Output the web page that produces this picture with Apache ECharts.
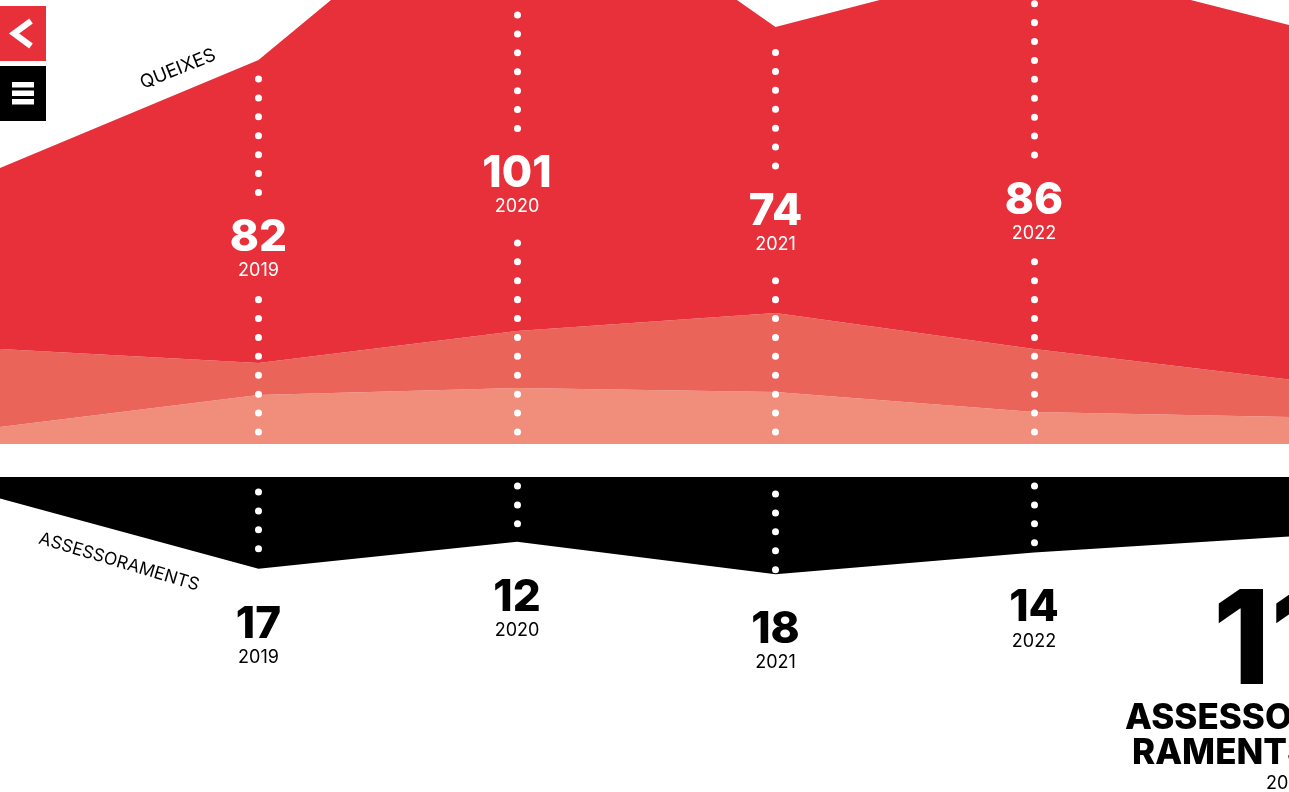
<!DOCTYPE html>
<html><head><meta charset="utf-8">
<script src="https://cdn.jsdelivr.net/npm/echarts@6/dist/echarts.min.js"></script>
<style>html,body{margin:0;padding:0;background:#fff;overflow:hidden}#c{width:1289px;height:792px}</style>
</head><body><div id="c"></div>
<script>
// ---------- DATA ----------
const years = ['2018', '2019', '2020', '2021', '2022', '2023'];
// Queixes area layers (stacked, chart units)
const queixesLight = [17, 49, 56, 52, 32, 27];
const queixesMid = [78, 32, 57, 79, 63, 37];
const queixesMain = [181, 303, 485, 286, 389, 354];
// Queixes labelled counts
const queixesCounts = [null, 82, 101, 74, 86, null];
// Assessoraments counts
const assessoraments = [4, 17, 12, 18, 14, 11];
const titleQueixes = 'QUEIXES';
const titleAssess = 'ASSESSORAMENTS';

// ---------- LAYOUT ----------
const Q_BASE = 444;              // px baseline of queixes grid
const A_TOP = 477;               // px top of assessoraments grid
const A_SCALE = 5.4;             // px per unit
const A_MAX = 50;
const GRID_W = 1292.5;
const qLabelCenterPx = [null, 235.5, 171.5, 209, 198, null];
const aDotStartPx = [null, 492, 486, 494, 486, null];
const DOT = { color: '#fff', width: 7, type: [0.01, 18.9], cap: 'round' };

const RED = '#E8303A', MID = '#EB6459', LIGHT = '#F08E7B';
const FONT = 'Inter, "Noto Sans", sans-serif';

// ---------- DERIVED ----------
const qTotals = years.map((_, i) => queixesLight[i] + queixesMid[i] + queixesMain[i]);
const qv = px => Q_BASE - px;                 // px -> queixes axis value
const av = px => (px - A_TOP) / A_SCALE;      // px -> assess axis value

const qDots = [];
const qLabels = [];
years.forEach((y, i) => {
  const c = qLabelCenterPx[i];
  if (c == null) return;
  const vertexPx = Q_BASE - qTotals[i];
  const upStart = c - 43, upEnd = Math.max(0, vertexPx + 14);
  qDots.push([{ coord: [y, qv(upStart)] }, { coord: [y, qv(upEnd)] }]);
  qDots.push([{ coord: [y, qv(432)] }, { coord: [y, qv(c + 63)] }]);
  qLabels.push({ coord: [y, qv(c + 15.5)], value: queixesCounts[i], name: y });
});
const aDots = [];
years.forEach((y, i) => {
  const s = aDotStartPx[i];
  if (s == null) return;
  aDots.push([{ coord: [y, av(s)] }, { coord: [y, assessoraments[i] - 3 / A_SCALE] }]);
});

const rich = (col) => ({
  n: { fontFamily: FONT, fontSize: 44, fontWeight: 800, color: col, lineHeight: 40, align: 'center' },
  y: { fontFamily: FONT, fontSize: 18, fontWeight: 400, color: col, lineHeight: 26, align: 'center' }
});

const chart = echarts.init(document.getElementById('c'), null, { renderer: 'canvas' });
const hidden = { show: false };
const txt = (x, y, text, font, align, rot) => ({
  type: 'text', x, y, rotation: rot || 0,
  style: { text, fill: '#000', font, align, verticalAlign: 'middle', textAlign: align, textVerticalAlign: 'middle' }
});
chart.setOption({
  animation: false,
  backgroundColor: '#fff',
  grid: [
    { left: 0, top: 0, width: GRID_W, height: Q_BASE, outerBoundsMode: 'none', containLabel: false },
    { left: 0, top: A_TOP, width: GRID_W, height: A_MAX * A_SCALE, outerBoundsMode: 'none', containLabel: false }
  ],
  xAxis: [
    { type: 'category', gridIndex: 0, data: years, boundaryGap: false, show: false },
    { type: 'category', gridIndex: 1, data: years, boundaryGap: false, show: false }
  ],
  yAxis: [
    { type: 'value', gridIndex: 0, min: 0, max: Q_BASE, show: false },
    { type: 'value', gridIndex: 1, min: 0, max: A_MAX, inverse: true, show: false }
  ],
  series: [
    { type: 'line', name: 'light', xAxisIndex: 0, yAxisIndex: 0, stack: 'q', data: queixesLight,
      symbol: 'none', lineStyle: { width: 0 }, areaStyle: { color: LIGHT, opacity: 1 } },
    { type: 'line', name: 'mid', xAxisIndex: 0, yAxisIndex: 0, stack: 'q', data: queixesMid,
      symbol: 'none', lineStyle: { width: 0 }, areaStyle: { color: MID, opacity: 1 } },
    { type: 'line', name: 'main', xAxisIndex: 0, yAxisIndex: 0, stack: 'q', data: queixesMain,
      symbol: 'none', lineStyle: { width: 0 }, areaStyle: { color: RED, opacity: 1 },
      markLine: { silent: true, symbol: ['none', 'none'], label: hidden, lineStyle: DOT,
        emphasis: { disabled: true }, data: qDots },
      markPoint: { silent: true, symbol: 'circle', symbolSize: 1, itemStyle: { color: 'rgba(0,0,0,0)' },
        label: { show: true, position: 'inside', formatter: p => `{n|${p.value}}\n{y|${p.name}}`, rich: rich('#fff') },
        data: qLabels }
    },
    { type: 'line', name: 'assess', xAxisIndex: 1, yAxisIndex: 1, data: assessoraments,
      symbol: 'circle', symbolSize: 1, showAllSymbol: true, itemStyle: { color: 'rgba(0,0,0,0)' },
      lineStyle: { width: 0 }, areaStyle: { color: '#000', opacity: 1 },
      label: { show: true, position: 'bottom', distance: 35,
        formatter: p => (p.dataIndex === 0 || p.dataIndex === years.length - 1) ? '' : `{n|${p.value}}\n{y|${p.name}}`,
        rich: rich('#000') },
      markLine: { silent: true, symbol: ['none', 'none'], label: hidden, lineStyle: DOT,
        emphasis: { disabled: true }, data: aDots }
    }
  ],
  graphic: [
    { type: 'rect', shape: { x: 0, y: 6, width: 46, height: 55 }, style: { fill: RED } },
    { type: 'polyline', shape: { points: [[31, 21], [14, 33.5], [31, 46]] }, style: { stroke: '#fff', lineWidth: 6, fill: null } },
    { type: 'rect', shape: { x: 0, y: 66, width: 46, height: 55 }, style: { fill: '#000' } },
    { type: 'rect', shape: { x: 12, y: 82, width: 22, height: 5.5 }, style: { fill: '#fff' } },
    { type: 'rect', shape: { x: 12, y: 90.5, width: 22, height: 5.5 }, style: { fill: '#fff' } },
    { type: 'rect', shape: { x: 12, y: 99, width: 22, height: 5.5 }, style: { fill: '#fff' } },
    txt(178, 69, titleQueixes, '400 18.5px ' + FONT, 'center', 0.38),
    txt(119, 562, titleAssess, '400 17.5px ' + FONT, 'center', -0.29),
    txt(1213, 645, String(assessoraments[5]), '800 130px ' + FONT, 'left'),
    txt(1125, 718, titleAssess.slice(0, 7), '800 35px ' + FONT, 'left'),
    txt(1132, 753, titleAssess.slice(7), '800 35px ' + FONT, 'left'),
    txt(1266, 784, years[5], '400 18px ' + FONT, 'left')
  ]
});
</script>
</body></html>
